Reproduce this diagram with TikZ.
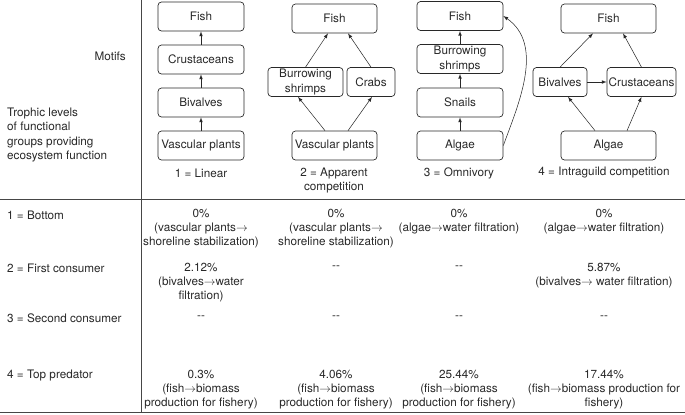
\documentclass[tikz,border=0pt]{standalone}
\usepackage{fontspec}
\setmainfont{TeX Gyre Heros}
\usetikzlibrary{arrows, positioning, calc}
\definecolor{Ink}{RGB}{40, 40, 40}
\definecolor{Rule}{RGB}{70, 70, 70}

\begin{document}
\begin{tikzpicture}[x=0.03cm, y=-0.03cm,
        every node/.style={font=\fontsize{10}{12}\selectfont, text=Ink},
        box/.style={draw=Ink, line width=0.6pt, rounded corners=3pt, minimum width=#1, minimum height=0.87cm, inner sep=1pt, align=center},
        link/.style={-latex, draw=Ink, line width=0.45pt},
        txt/.style={inner sep=0pt, align=center},
        rowlbl/.style={inner sep=0pt, anchor=west},
        rule/.style={draw=Rule, line width=0.8pt}]
            \useasboundingbox (0,0) rectangle (685,414);

            % Table rules
            \draw[rule] (141,0) -- (141,413);
            \draw[rule] (0,199) -- (685,199);
            \draw[rule] (0,412.5) -- (685,412.5);

            % Header texts
            \node[rowlbl, anchor=east] (motifs) at (126,56) {Motifs};
            \node[rowlbl, align=left] (trophic) at (7,135) {Trophic levels\\of functional\\groups providing\\ecosystem function};

            % 1 = Linear
            \node[box=2.58cm] (fish1) at (201,16.5) {Fish};
            \node[box=2.58cm] (crus1) at (201,59.5) {Crustaceans};
            \node[box=2.58cm] (biv1) at (201,102.5) {Bivalves};
            \node[box=2.58cm] (vasc1) at (201,145.5) {Vascular plants};
            \draw[link] (vasc1) -- (biv1);
            \draw[link] (biv1) -- (crus1);
            \draw[link] (crus1) -- (fish1);
            \node[txt] (cap1) at (201,173) {1 = Linear};

            % 2 = Apparent competition
            \node[box=2.55cm] (fish2) at (334.5,18.5) {Fish};
            \node[box=2.25cm] (shr2) at (305.5,82) {Burrowing\\shrimps};
            \node[box=1.44cm] (crab2) at (371,82) {Crabs};
            \node[box=2.55cm] (vasc2) at (334.5,145.5) {Vascular plants};
            \draw[link] ($(vasc2.north)+(-9.5,0)$) -- ($(shr2.south)+(-7.5,0)$);
            \draw[link] ($(vasc2.north)+(13.5,0)$) -- ($(crab2.south)+(1,0)$);
            \draw[link] (shr2.north) -- ($(fish2.south)+(-6.5,0)$);
            \draw[link] (crab2.north) -- ($(fish2.south)+(13.5,0)$);
            \node[txt] (cap2) at (334,180.5) {2 = Apparent\\competition};

            % 3 = Omnivory
            \node[box=2.58cm] (fish3) at (460,16) {Fish};
            \node[box=2.58cm] (shr3) at (460,59) {Burrowing\\shrimps};
            \node[box=2.58cm] (snail3) at (460,102.5) {Snails};
            \node[box=2.58cm] (alg3) at (460,145.5) {Algae};
            \draw[link] (alg3) -- (snail3);
            \draw[link] (snail3) -- (shr3);
            \draw[link] (shr3) -- (fish3);
            \draw[link] (alg3.east) .. controls (518,105) and (545,45) .. (fish3.east);
            \node[txt] (cap3) at (459,173) {3 = Omnivory};

            % 4 = Intraguild competition
            \node[box=2.85cm] (fish4) at (608.5,18.5) {Fish};
            \node[box=1.62cm] (biv4) at (560,82) {Bivalves};
            \node[box=2.07cm] (crus4) at (641.5,82) {Crustaceans};
            \node[box=2.85cm] (alg4) at (608.5,145.5) {Algae};
            \draw[link] (biv4) -- (crus4);
            \draw[link] ($(alg4.north)+(-13.5,0)$) -- ($(biv4.south)+(8,0)$);
            \draw[link] ($(alg4.north)+(18.5,0)$) -- (crus4.south);
            \draw[link] (biv4.north) -- ($(fish4.south)+(-15.5,0)$);
            \draw[link] (crus4.north) -- ($(fish4.south)+(14.5,0)$);
            \node[txt] (cap4) at (604,173) {4 = Intraguild competition};

            % Row labels
            \node[rowlbl] (lvl1) at (7,215) {1 = Bottom};
            \node[rowlbl] (lvl2) at (7,268) {2 = First consumer};
            \node[rowlbl] (lvl3) at (7,318) {3 = Second consumer};
            \node[rowlbl] (lvl4) at (7,375) {4 = Top predator};

            % Bottom
            \node[txt] (bot1) at (201,229) {0\%\\(vascular plants$\rightarrow$\\shoreline stabilization)};
            \node[txt] (bot2) at (336,229) {0\%\\(vascular plants$\rightarrow$\\shoreline stabilization)};
            \node[txt] (bot3) at (459,222) {0\%\\(algae$\rightarrow$water filtration)};
            \node[txt] (bot4) at (604,222) {0\%\\(algae$\rightarrow$water filtration)};

            % First consumer
            \node[txt] (first1) at (201,283) {2.12\%\\(bivalves$\rightarrow$water\\filtration)};
            \node[txt] (first2) at (336,268) {-{}-};
            \node[txt] (first3) at (459,268) {-{}-};
            \node[txt] (first4) at (604,275.5) {5.87\%\\(bivalves$\rightarrow$ water filtration)};

            % Second consumer
            \node[txt] (sec1) at (201,318) {-{}-};
            \node[txt] (sec2) at (336,318) {-{}-};
            \node[txt] (sec3) at (459,318) {-{}-};
            \node[txt] (sec4) at (604,318) {-{}-};

            % Top predator
            \node[txt] (top1) at (201,389.5) {0.3\%\\(fish$\rightarrow$biomass\\production for fishery)};
            \node[txt] (top2) at (336,389.5) {4.06\%\\(fish$\rightarrow$biomass\\production for fishery)};
            \node[txt] (top3) at (459,389.5) {25.44\%\\(fish$\rightarrow$biomass\\production for fishery)};
            \node[txt] (top4) at (604,389.5) {17.44\%\\(fish$\rightarrow$biomass production for\\fishery)};
        \end{tikzpicture}
\end{document}
